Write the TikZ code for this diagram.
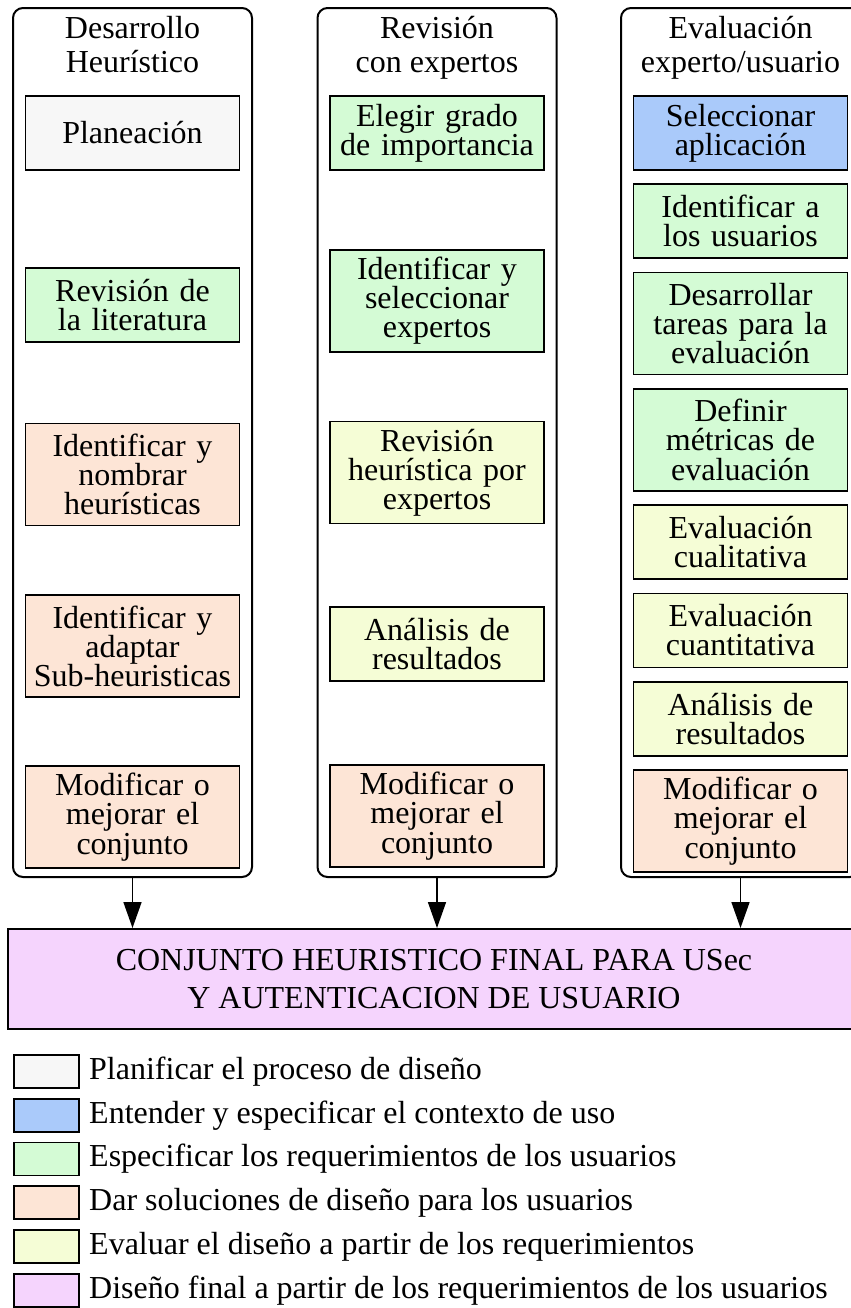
\documentclass[tikz,border=0pt]{standalone}
\usepackage{fontspec}
\setmainfont{Liberation Serif}
\usetikzlibrary{arrows.meta, positioning}

\definecolor{gris}{RGB}{247,247,247}
\definecolor{azul}{RGB}{170,202,250}
\definecolor{verde}{RGB}{212,251,213}
\definecolor{durazno}{RGB}{253,229,214}
\definecolor{amarillo}{RGB}{245,253,214}
\definecolor{lila}{RGB}{245,212,253}

\begin{document}
\begin{tikzpicture}
    \tikzset{
        caja/.style = {rectangle, draw=black, line width=0.9pt, text width=103pt, align=center, inner sep=2pt, minimum height=37pt, anchor=north, font=\fontsize{16}{14.6}\selectfont},
        alta/.style = {minimum height=51pt},
        columna/.style = {rectangle, draw=black, line width=1pt, rounded corners=5pt, minimum width=119.5pt, minimum height=434.5pt, inner sep=0pt, anchor=north},
        titulo/.style = {align=center, inner sep=0pt, anchor=north, font=\fontsize{16}{17}\selectfont},
        final/.style = {rectangle, draw=black, line width=1pt, fill=lila, align=center, minimum width=426pt, minimum height=50pt, font=\fontsize{16}{19}\selectfont},
        linea/.style = {draw=black, line width=0.8pt, -{Triangle[width=9pt, length=13pt]}},
        muestra/.style = {rectangle, draw=black, line width=0.9pt, minimum width=32.5pt, minimum height=16.5pt, inner sep=0pt},
        leyenda/.style = {inner sep=0pt, font=\fontsize{16}{19}\selectfont},
    }

    \useasboundingbox (0,0) rectangle (425.5pt,-654pt);

    \node[columna](colA) at (66.25pt,-3.5pt){};
    \node[columna](colB) at (218.5pt,-3.5pt){};
    \node[columna](colC) at (370.25pt,-3.5pt){};

    \node[titulo](tituloA) at ([yshift=-4.5pt]colA.north){Desarrollo\\Heurístico};
    \node[titulo](tituloB) at ([yshift=-4.5pt]colB.north){Revisión\\con expertos};
    \node[titulo](tituloC) at ([yshift=-4.5pt]colC.north){Evaluación\\experto/usuario};

    \node[caja, fill=gris](planeacion) at (66.25pt,-47.5pt){Planeación};

    \node[caja, fill=verde](literatura)[below = 48pt of planeacion]{Revisión de\\la literatura};

    \node[caja, alta, fill=durazno](nombrar)[below = 40pt of literatura]{Identificar y\\nombrar\\heurísticas};

    \node[caja, alta, fill=durazno](adaptar)[below = 34pt of nombrar]{Identificar y\\adaptar\\Sub-heuristicas};

    \node[caja, alta, fill=durazno](modificarA)[below = 33.5pt of adaptar]{Modificar o\\mejorar el\\conjunto};

    \node[caja, fill=verde](importancia) at (218.5pt,-47.5pt){Elegir grado\\de importancia};

    \node[caja, alta, fill=verde](expertos)[below = 39pt of importancia]{Identificar y\\seleccionar\\expertos};

    \node[caja, alta, fill=amarillo](revision)[below = 34pt of expertos]{Revisión\\heurística por\\expertos};

    \node[caja, fill=amarillo](analisisB)[below = 41pt of revision]{Análisis de\\resultados};

    \node[caja, alta, fill=durazno](modificarB)[below = 41pt of analisisB]{Modificar o\\mejorar el\\conjunto};

    \node[caja, fill=azul](aplicacion) at (370.25pt,-47.5pt){Seleccionar\\aplicación};

    \node[caja, fill=verde](usuarios)[below = 6.25pt of aplicacion]{Identificar a\\los usuarios};

    \node[caja, alta, fill=verde](tareas)[below = 6.25pt of usuarios]{Desarrollar\\tareas para la\\evaluación};

    \node[caja, alta, fill=verde](metricas)[below = 6.25pt of tareas]{Definir\\métricas de\\evaluación};

    \node[caja, fill=amarillo](cualitativa)[below = 6.25pt of metricas]{Evaluación\\cualitativa};

    \node[caja, fill=amarillo](cuantitativa)[below = 6.25pt of cualitativa]{Evaluación\\cuantitativa};

    \node[caja, fill=amarillo](analisisC)[below = 6.25pt of cuantitativa]{Análisis de\\resultados};

    \node[caja, alta, fill=durazno](modificarC)[below = 6.25pt of analisisC]{Modificar o\\mejorar el\\conjunto};

    \node[final](conjunto) at (217pt,-489.5pt){CONJUNTO HEURISTICO FINAL PARA USec\\Y AUTENTICACION DE USUARIO};

    \path [linea] (colA.south) -- (colA.south |- conjunto.north);
    \path [linea] (colB.south) -- (colB.south |- conjunto.north);
    \path [linea] (colC.south) -- (colC.south |- conjunto.north);

    \node[muestra, fill=gris, anchor=north west](m1) at (6.5pt,-527pt){};
    \node[muestra, fill=azul](m2)[below = 4.5pt of m1]{};
    \node[muestra, fill=verde](m3)[below = 4.5pt of m2]{};
    \node[muestra, fill=durazno](m4)[below = 4.5pt of m3]{};
    \node[muestra, fill=amarillo](m5)[below = 4.5pt of m4]{};
    \node[muestra, fill=lila](m6)[below = 4.5pt of m5]{};

    \node[leyenda](l1)[right = 4.5pt of m1]{Planificar el proceso de diseño};
    \node[leyenda](l2)[right = 4.5pt of m2]{Entender y especificar el contexto de uso};
    \node[leyenda](l3)[right = 4.5pt of m3]{Especificar los requerimientos de los usuarios};
    \node[leyenda](l4)[right = 4.5pt of m4]{Dar soluciones de diseño para los usuarios};
    \node[leyenda](l5)[right = 4.5pt of m5]{Evaluar el diseño a partir de los requerimientos};
    \node[leyenda](l6)[right = 4.5pt of m6]{Diseño final a partir de los requerimientos de los usuarios};

\end{tikzpicture}
\end{document}
